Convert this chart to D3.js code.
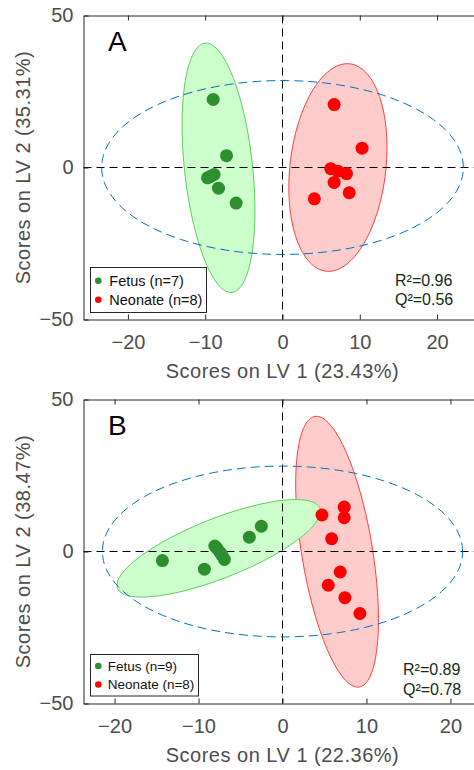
<!DOCTYPE html>
<html>
<head>
<meta charset="utf-8">
<script src="https://cdn.jsdelivr.net/npm/d3@7"></script>
<style>
  body { margin: 0; background: #fff; }
  svg { display: block; }
  text { font-family: "Liberation Sans", Arial, Helvetica, sans-serif; }
</style>
</head>
<body>
<svg id="chart" width="474" height="770"></svg>
<script>
// PLS-DA score coordinates [LV1, LV2] for each group
const fetusA   = [[-8.97, 22.4], [-7.24, 3.9], [-8.85, -2.3], [-9.7, -3.4], [-9.3, -2.9], [-8.28, -6.8], [-6.0, -11.7]];
const neonateA = [[6.68, 20.7], [10.3, 6.35], [6.25, -0.4], [7.16, -1.2], [8.28, -2.0], [6.68, -4.9], [8.63, -8.3], [4.12, -10.3]];
const fetusB   = [[-14.3, -3.0], [-9.3, -5.8], [-8.06, 1.8], [-7.8, 1.0], [-7.43, -0.3], [-7.2, -1.3], [-6.92, -2.6], [-3.95, 4.7], [-2.52, 8.3]];
const neonateB = [[4.7, 12.0], [7.35, 14.6], [7.35, 11.1], [5.85, 4.2], [6.87, -6.75], [5.45, -11.1], [7.43, -15.2], [9.22, -20.4]];

// Group confidence ellipses: centre, major and minor half-axis vectors (score units)
const fetusEllipseA   = { c: [-8.28, -0.1], u: [-1.74, 41.0], v: [4.38, 1.2] };
const neonateEllipseA = { c: [7.17, 0.0],   u: [1.54, 34.1],  v: [6.16, -1.79] };
const fetusEllipseB   = { c: [-7.59, 1.05], u: [12.05, 13.18], v: [1.30, -9.13] };
const neonateEllipseB = { c: [6.5, -0.07],  u: [-2.64, 44.5], v: [4.16, 1.89] };

// Hotelling T2 limits (half-widths along LV1, LV2)
const t2LimitA = [23.4, 28.6];
const t2LimitB = [21.45, 28.1];

// Axis limits and ticks
const xLimA = [-25.75, 25.75];
const xLimB = [-23.7, 23.7];
const yLim = [-50, 50];
const xTicks = [-20, -10, 0, 10, 20];
const yTicks = [-50, 0, 50];

// Labels
const panelLetters = ["A", "B"];
const xTitles = ["Scores on LV 1 (23.43%)", "Scores on LV 1 (22.36%)"];
const yTitles = ["Scores on LV 2 (35.31%)", "Scores on LV 2 (38.47%)"];
const legendA = ["Fetus (n=7)", "Neonate (n=8)"];
const legendB = ["Fetus (n=9)", "Neonate (n=8)"];
const statsA = ["R\u00B2=0.96", "Q\u00B2=0.56"];
const statsB = ["R\u00B2=0.89", "Q\u00B2=0.78"];

const GREEN = "#2d8f2d", RED = "#ff0000";
const svg = d3.select("#chart");

const panels = [
  { top: 15.5, xLim: xLimA, fetus: fetusA, neo: neonateA, fe: fetusEllipseA, ne: neonateEllipseA,
    t2: t2LimitA, letter: panelLetters[0], xt: xTitles[0], yt: yTitles[0], legend: legendA, stats: statsA,
    legFont: 14.5, legBox: [90.5, 267.5, 116, 45], legRows: [280.7, 299.7], statsX: 395, statsRows: [280.5, 299.5] },
  { top: 399.5, xLim: xLimB, fetus: fetusB, neo: neonateB, fe: fetusEllipseB, ne: neonateEllipseB,
    t2: t2LimitB, letter: panelLetters[1], xt: xTitles[1], yt: yTitles[1], legend: legendB, stats: statsB,
    legFont: 13.5, legBox: [90.5, 654.5, 108, 41.5], legRows: [666, 684.5], statsX: 403, statsRows: [669, 689] }
];

const left = 83.5, plotW = 398, plotH = 304;

panels.forEach(p => {
  const x = d3.scaleLinear().domain(p.xLim).range([left, left + plotW]);
  const y = d3.scaleLinear().domain(yLim).range([p.top + plotH, p.top]);
  const g = svg.append("g");

  const ellipsePath = e => {
    const ts = d3.range(0, 360, 2).map(a => a * Math.PI / 180);
    return d3.line().curve(d3.curveLinearClosed)(ts.map(t => [
      x(e.c[0] + e.u[0] * Math.cos(t) + e.v[0] * Math.sin(t)),
      y(e.c[1] + e.u[1] * Math.cos(t) + e.v[1] * Math.sin(t))
    ]));
  };

  // group confidence regions (fetus drawn last, on top)
  g.append("path").attr("d", ellipsePath(p.ne))
    .attr("fill", "#ffcccc").attr("stroke", "#ff3b3b").attr("stroke-width", 1);
  g.append("path").attr("d", ellipsePath(p.fe))
    .attr("fill", "#ccffcc").attr("stroke", "#5ccc5c").attr("stroke-width", 1);

  // zero reference lines
  g.append("line").attr("x1", x(0)).attr("x2", x(0)).attr("y1", y(50)).attr("y2", y(-50))
    .attr("stroke", "#000").attr("stroke-width", 1).attr("stroke-dasharray", "8,5");
  g.append("line").attr("x1", left).attr("x2", left + plotW).attr("y1", y(0)).attr("y2", y(0))
    .attr("stroke", "#000").attr("stroke-width", 1).attr("stroke-dasharray", "8,5");

  // Hotelling T2 ellipse
  g.append("path").attr("d", ellipsePath({ c: [0, 0], u: [p.t2[0], 0], v: [0, p.t2[1]] }))
    .attr("fill", "none").attr("stroke", "#0072BD").attr("stroke-width", 1).attr("stroke-dasharray", "9,5");

  // score points
  g.selectAll(null).data(p.fetus).join("circle")
    .attr("cx", d => x(d[0])).attr("cy", d => y(d[1])).attr("r", 6.5).attr("fill", GREEN);
  g.selectAll(null).data(p.neo).join("circle")
    .attr("cx", d => x(d[0])).attr("cy", d => y(d[1])).attr("r", 6.5).attr("fill", RED);

  // axes with inward ticks
  const axisStyle = sel => {
    sel.select(".domain").attr("stroke", "#262626");
    sel.selectAll(".tick line").attr("stroke", "#262626");
    sel.selectAll(".tick text").attr("fill", "#4d4d4d").style("font-size", "20px")
      .style("font-family", "'Liberation Sans', Arial, sans-serif");
  };
  g.append("g").attr("transform", `translate(0,${p.top + plotH})`)
    .call(d3.axisBottom(x).tickValues(xTicks).tickSizeInner(-5).tickSizeOuter(0).tickPadding(15))
    .call(axisStyle);
  g.append("g").attr("transform", `translate(0,${p.top})`)
    .call(d3.axisTop(x).tickValues(xTicks).tickSizeInner(-5).tickSizeOuter(0).tickFormat(""))
    .call(axisStyle);
  g.append("g").attr("transform", `translate(${left},0)`)
    .call(d3.axisLeft(y).tickValues(yTicks).tickSizeInner(-5).tickSizeOuter(0).tickPadding(10))
    .call(axisStyle);

  // axis titles
  g.append("text").attr("x", left + plotW / 2).attr("y", p.top + plotH + 58)
    .attr("text-anchor", "middle").attr("fill", "#4d4d4d").style("font-size", "20px")
    .style("letter-spacing", "0.5px").text(p.xt);
  g.append("text").attr("transform", `translate(29.5,${p.top + plotH / 2}) rotate(-90)`)
    .attr("text-anchor", "middle").attr("fill", "#4d4d4d").style("font-size", "20px")
    .style("letter-spacing", "0.5px").text(p.yt);

  // panel letter
  g.append("text").attr("x", 108).attr("y", p.top + 35).attr("fill", "#000")
    .style("font-size", "28px").text(p.letter);

  // legend
  const [lx, ly, lw, lh] = p.legBox;
  g.append("rect").attr("x", lx).attr("y", ly).attr("width", lw).attr("height", lh)
    .attr("fill", "#fff").attr("stroke", "#262626").attr("stroke-width", 1);
  [GREEN, RED].forEach((c, i) => {
    g.append("circle").attr("cx", 98.3).attr("cy", p.legRows[i]).attr("r", 3.3).attr("fill", c);
    g.append("text").attr("x", lx + (p.legFont > 14 ? 18.8 : 17.2)).attr("y", p.legRows[i])
      .attr("dy", "0.35em").attr("fill", "#111").style("font-size", p.legFont + "px").text(p.legend[i]);
  });

  // model statistics
  p.stats.forEach((s, i) => {
    g.append("text").attr("x", p.statsX).attr("y", p.statsRows[i]).attr("dy", "0.35em")
      .attr("fill", "#142b14").style("font-size", "16px").text(s);
  });
});
</script>
</body>
</html>
